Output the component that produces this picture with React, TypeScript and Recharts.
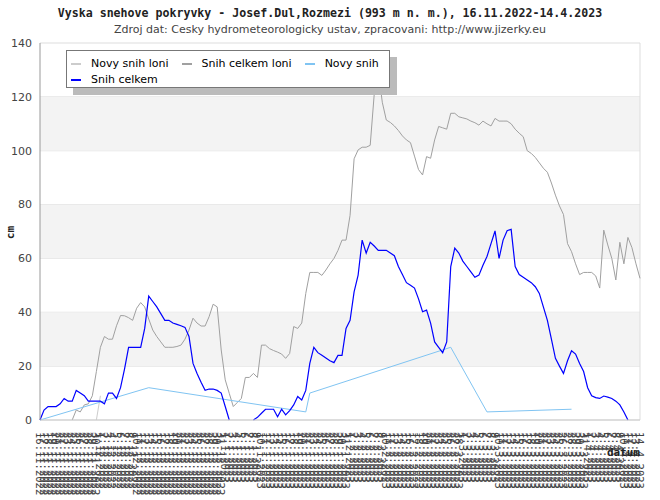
import React from 'react';
import { LineChart, Line, XAxis, YAxis, CartesianGrid, ReferenceArea, ReferenceLine, Legend } from 'recharts';

// kategorie: kazdy den 16.11.2022 - 14.4.2023
const dates: string[] = Array.from({ length: 150 }, (_, i) => {
  const d = new Date(2022, 10, 16 + i);
  return `${d.getDate()}.${d.getMonth() + 1}.${d.getFullYear()}`;
});

const yTicks = [0, 20, 40, 60, 80, 100, 120, 140];
const bands = [[20, 40], [60, 80], [100, 120]];

// Snih celkem (letos)
const snihCelkem: (number | null)[] = [
  0, 3.7, 5, 5, 5, 6, 8, 7, 7, 11,
  10, 9, 7, 7, 7, 7, 6, 10, 10, 8,
  12, 19, 27, 27, 27, 27, 34, 46, 44, 42,
  39.5, 37, 37, 36, 35.5, 35, 34.4, 31, 21, 17.3,
  14, 11, 11.5, 11.5, 11, 10, 5, 0, null, null,
  null, null, null, 0, 1, 2.5, 4, 4, 4, 1.2,
  4, 1.9, 3.5, 5.6, 8.7, 7.4, 11, 21, 27, 25,
  24, 23, 22, 21.3, 24, 24, 34, 37, 47.6, 53.8,
  66.8, 62, 66, 64.6, 63, 63, 63, 62, 61, 57,
  54, 51, 50, 49, 45, 40.2, 40.8, 36, 29, 27,
  25, 29, 57, 63.8, 62, 59, 57, 55, 53, 53.8,
  57.5, 60.7, 65.5, 70.2, 60, 66.8, 70.3, 70.8, 57, 54,
  53, 52, 51, 49.5, 47, 42, 37, 30, 22.9, 20,
  17.3, 22, 25.7, 24.5, 21, 18, 12, 9, 8.3, 8,
  8.9, 8.5, 8, 7, 5.6, 3, 0, null, null, null,
];

// Snih celkem loni
const snihCelkemLoni: (number | null)[] = [
  null, null, null, null, null, null, null, null, 0, 3.7,
  3, 5.6, 6, 9, 18, 27, 31, 30, 30, 35,
  38.8, 38.7, 38, 37, 41.5, 43.6, 42, 37.5, 33.4, 31,
  29, 27, 27, 27, 27.3, 27.8, 30, 33.4, 37.8, 36,
  34.9, 34.9, 38.4, 43, 42, 26, 14.9, 9.9, 5, 6.5,
  8, 15.8, 15.8, 17.3, 15.8, 27.8, 27.8, 26.5, 25.8, 25.2,
  24.5, 22.9, 24.7, 34.7, 34, 36, 47, 54.8, 54.8, 54.8,
  53.7, 55.7, 58, 60, 63, 66.8, 66.8, 76, 97, 100.3,
  101.3, 101.3, 102, 121, 130, 118, 111.4, 110.5, 109.2, 107.5,
  105.5, 104, 103, 98, 93, 91, 97.8, 97.2, 104, 109,
  108.5, 108, 113.9, 113.9, 112.6, 112.2, 111.8, 111, 110.4, 109.5,
  111, 110, 109.2, 112, 111, 111, 111, 110, 108, 106.5,
  105.2, 100, 99, 97.5, 95.5, 93.5, 92, 88, 83.5, 79.5,
  76.3, 65.5, 62.5, 58, 54, 54.8, 54.8, 54.8, 53.5, 49,
  70.5, 65, 60, 52, 66, 58, 67.8, 64, 58, 52.6,
];

// Novy snih - jen dny s merenim
const novySnihPoints = [
  { date: '16.11.2022', value: 0 },
  { date: '13.12.2022', value: 12 },
  { date: '21.1.2023', value: 3 },
  { date: '22.1.2023', value: 10 },
  { date: '26.2.2023', value: 27 },
  { date: '7.3.2023', value: 3 },
  { date: '28.3.2023', value: 4 },
];

// Novy snih loni
const novySnihLoniPoints = [
  { date: '30.11.2022', value: 0 },
  { date: '1.12.2022', value: 9 },
];

const seriesInfo = [
  { key: 'novySnihLoni', name: 'Novy snih loni', color: '#cccccc' },
  { key: 'snihCelkemLoni', name: 'Snih celkem loni', color: '#a0a0a0' },
  { key: 'novySnih', name: 'Novy snih', color: '#80c4f2' },
  { key: 'snihCelkem', name: 'Snih celkem', color: '#0000ff' },
];

const data = dates.map((date, i) => ({
  date,
  snihCelkem: snihCelkem[i],
  snihCelkemLoni: snihCelkemLoni[i],
  novySnih: novySnihPoints.find((p) => p.date === date)?.value ?? null,
  novySnihLoni: novySnihLoniPoints.find((p) => p.date === date)?.value ?? null,
}));

const DateTick = (props: any) => {
  const { x, y, payload } = props;
  return (
    <text
      x={x}
      y={y}
      transform={`rotate(90, ${x}, ${y})`}
      fontSize={10.5}
      fontFamily="'DejaVu Sans Mono', monospace"
      fill="#444"
      dominantBaseline="central"
    >
      {payload.value}
    </text>
  );
};

const renderLegend = () => (
  <div
    style={{
      width: 324,
      height: 38,
      border: '1px solid #777',
      background: '#fff',
      boxShadow: '7px 7px 0 #bbb',
      fontFamily: "'DejaVu Sans', sans-serif",
      fontSize: 11,
      color: '#000',
      display: 'flex',
      flexWrap: 'wrap',
      columnGap: 13,
      padding: '5px 0 0 4px',
      boxSizing: 'border-box',
      lineHeight: '16px',
    }}
  >
    {seriesInfo.map((s) => (
      <div key={s.key} style={{ display: 'flex', alignItems: 'center', height: 16 }}>
        <span style={{ display: 'inline-block', width: 10, height: 2, background: s.color, marginRight: 10 }} />
        <span>{s.name}</span>
      </div>
    ))}
  </div>
);

export default function App() {
  return (
    <div style={{ position: 'relative', width: 660, height: 500, background: '#fff' }}>
      <style>{`body{margin:0}`}</style>
      <div
        style={{
          position: 'absolute', top: 6, left: 0, width: 660, textAlign: 'center',
          fontFamily: "'DejaVu Sans Mono', monospace", fontWeight: 'bold', fontSize: 11.6, color: '#222',
        }}
      >
        Vyska snehove pokryvky - Josef.Dul,Rozmezi (993 m n. m.), 16.11.2022-14.4.2023
      </div>
      <div
        style={{
          position: 'absolute', top: 23, left: 0, width: 660, textAlign: 'center',
          fontFamily: "'DejaVu Sans', sans-serif", fontSize: 11, color: '#444',
        }}
      >
        Zdroj dat: Cesky hydrometeorologicky ustav, zpracovani: http://www.jizerky.eu
      </div>
      <LineChart width={660} height={500} data={data} margin={{ top: 43, right: 20, left: 0, bottom: 10 }}>
        {bands.map(([a, b]) => (
          <ReferenceArea key={a} y1={a} y2={b} fill="#f3f3f3" fillOpacity={1} stroke="none" />
        ))}
        <CartesianGrid vertical={false} stroke="#dddddd" />
        <ReferenceLine x={dates[dates.length - 1]} stroke="#dddddd" />
        <XAxis
          dataKey="date"
          interval={0}
          height={70}
          tickSize={0}
          tickMargin={12}
          axisLine={{ stroke: '#cccccc' }}
          tick={<DateTick />}
        />
        <YAxis
          width={40}
          domain={[0, 140]}
          ticks={yTicks}
          tickLine={false}
          axisLine={{ stroke: '#999999' }}
          tick={{ fill: '#444', fontSize: 11, fontFamily: "'DejaVu Sans', sans-serif" }}
        />
        <Legend
          layout="vertical"
          align="center"
          verticalAlign="middle"
          content={renderLegend}
          wrapperStyle={{ top: 50, left: 66, width: 324, height: 38 }}
        />
        {seriesInfo.map((s) => (
          <Line
            key={s.key}
            type="linear"
            dataKey={s.key}
            name={s.name}
            stroke={s.color}
            strokeWidth={s.key === 'snihCelkem' ? 1.2 : 1}
            dot={false}
            connectNulls={s.key === 'novySnih' || s.key === 'novySnihLoni'}
            isAnimationActive={false}
          />
        ))}
      </LineChart>
      <div
        style={{
          position: 'absolute', left: 4, top: 226, transform: 'rotate(-90deg)',
          fontFamily: "'DejaVu Sans Mono', monospace", fontWeight: 'bold', fontSize: 11, color: '#222',
        }}
      >
        cm
      </div>
      <div
        style={{
          position: 'absolute', right: 20, top: 446,
          fontFamily: "'DejaVu Sans Mono', monospace", fontWeight: 'bold', fontSize: 11, color: '#222',
        }}
      >
        datum
      </div>
    </div>
  );
}
